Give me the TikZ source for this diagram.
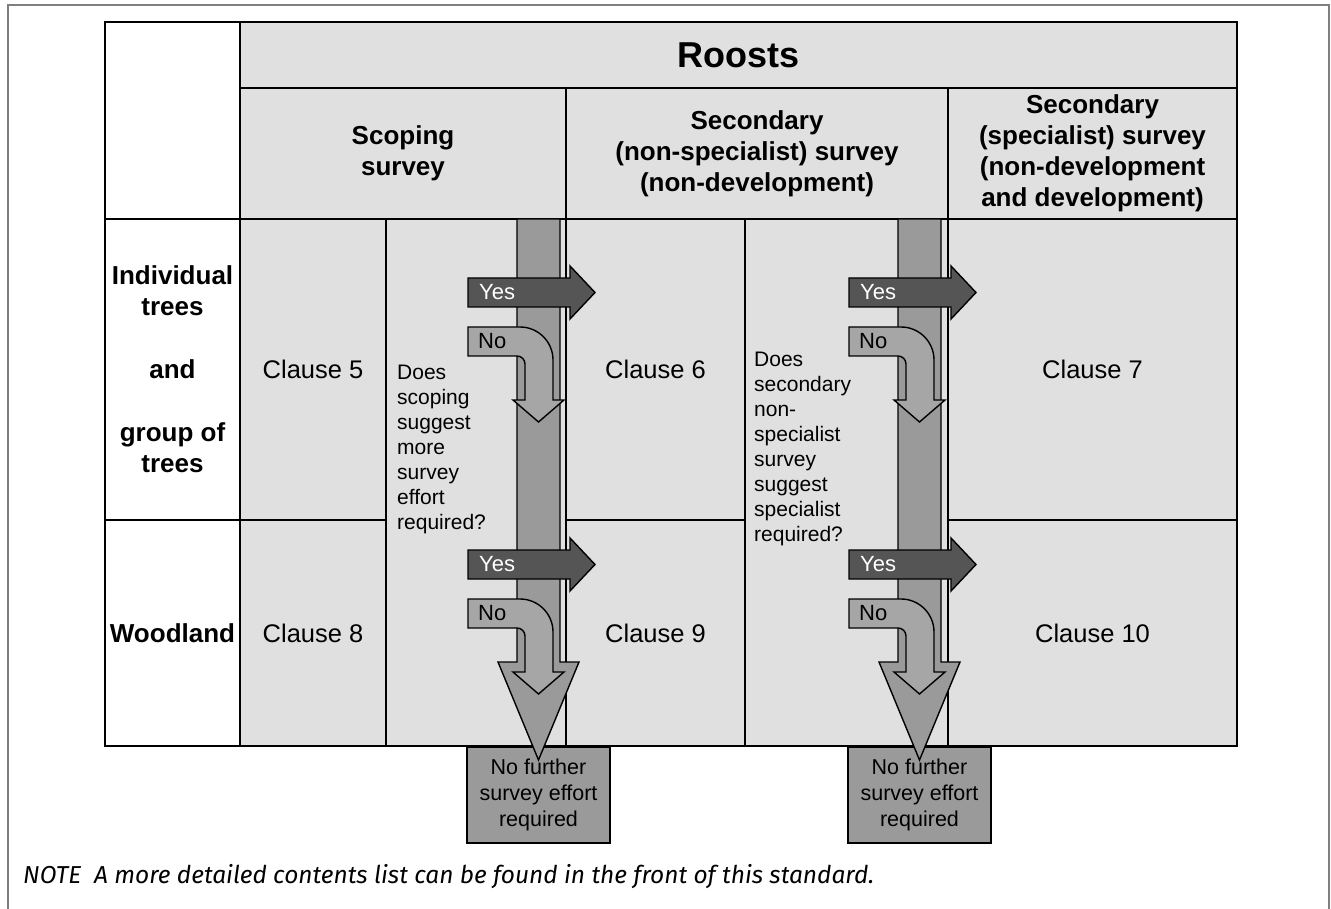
\documentclass[tikz,border=0pt]{standalone}
\usepackage{fontspec}
\setmainfont{Liberation Sans}
\newfontfamily\notefont{Fira Sans}
\definecolor{cellgray}{HTML}{E0E0E0}
\definecolor{bargray}{HTML}{9A9A9A}
\definecolor{yesgray}{HTML}{555555}
\definecolor{nogray}{HTML}{A6A6A6}
\definecolor{framegray}{HTML}{7F7F7F}
\begin{document}
\begin{tikzpicture}[x=1pt,y=-1pt,
 cell/.style={draw=black, line width=2.2pt, fill=cellgray, inner sep=0pt, align=center},
 wcell/.style={cell, fill=white},
 hfont/.style={font=\fontsize{26}{31}\selectfont\bfseries},
 cfont/.style={font=\fontsize{25.5}{30}\selectfont},
 qtext/.style={font=\fontsize{21}{25}\selectfont, align=left, inner sep=0pt, anchor=north west},
 bar/.style={fill=bargray, draw=black, line width=1.4pt, line join=miter},
 yesarrow/.style={fill=yesgray, draw=black, line width=1.4pt},
 noarrow/.style={fill=nogray, draw=black, line width=1.4pt},
 yeslabel/.style={text=white, font=\fontsize{22}{26}\selectfont, anchor=west, inner sep=0pt},
 nolabel/.style={text=black, font=\fontsize{22}{26}\selectfont, anchor=west, inner sep=0pt},
 endbox/.style={draw=black, line width=2pt, fill=bargray, minimum width=143pt, minimum height=96pt, inner sep=0pt, align=center, font=\fontsize{21.5}{26}\selectfont},
]
\useasboundingbox (0,0) rectangle (1331,909);
\fill[white] (0,0) rectangle (1331,909);
\draw[framegray, line width=1.5pt] (8,909) -- (8,5) -- (1329,5) -- (1329,909);

% header
\node[wcell, minimum width=135pt, minimum height=197pt] (tl) at (172.5,120.5) {};
\node[cell, minimum width=997pt, minimum height=66pt, font=\fontsize{36}{40}\selectfont\bfseries] (roosts) at (738.5,55) {Roosts};
\node[cell, hfont, minimum width=326pt, minimum height=131pt] (hscope) at (403,153.5) {Scoping\\survey};
\node[cell, hfont, minimum width=382pt, minimum height=131pt] (hsec) at (757,153.5) {Secondary\\(non-specialist) survey\\(non-development)};
\node[cell, hfont, minimum width=289pt, minimum height=131pt] (hspec) at (1092.5,153.5) {Secondary\\(specialist) survey\\(non-development\\and development)};

% body
\node[wcell, hfont, minimum width=135pt, minimum height=301pt] (lab1) at (172.5,369.5) {Individual\\trees\\[32pt]and\\[32pt]group of\\trees};
\node[wcell, hfont, minimum width=135pt, minimum height=226pt] (lab2) at (172.5,633) {Woodland};
\node[cell, cfont, minimum width=146pt, minimum height=301pt] (c5) at (313,369.5) {Clause 5};
\node[cell, cfont, minimum width=146pt, minimum height=226pt] (c8) at (313,633) {Clause 8};
\node[cell, minimum width=180pt, minimum height=527pt] (q1) at (476,482.5) {};
\node[cell, cfont, minimum width=179pt, minimum height=301pt] (c6) at (655.5,369.5) {Clause 6};
\node[cell, cfont, minimum width=179pt, minimum height=226pt] (c9) at (655.5,633) {Clause 9};
\node[cell, minimum width=203pt, minimum height=527pt] (q2) at (846.5,482.5) {};
\node[cell, cfont, minimum width=289pt, minimum height=301pt] (c7) at (1092.5,369.5) {Clause 7};
\node[cell, cfont, minimum width=289pt, minimum height=226pt] (c10) at (1092.5,633) {Clause 10};

\node[qtext] (qa) at (397,365) {Does\\scoping\\suggest\\more\\survey\\effort\\required?};
\node[qtext] (qb) at (754,352) {Does\\secondary\\non-\\specialist\\survey\\suggest\\specialist\\required?};

% end boxes
\node[endbox] (nf1) at (538.5,795) {No further\\survey effort\\required};
\node[endbox] (nf2) at (919.5,795) {No further\\survey effort\\required};

% arrows
\foreach \dx in {0,381} {
 \begin{scope}[shift={(\dx,0)}]
  \draw[bar] (517,219) -- (560,219) -- (560,662) -- (579,662) -- (538.5,760) -- (498,662) -- (517,662) -- cycle;
  \foreach \dy in {0,272} {
   \begin{scope}[shift={(0,\dy)}]
    \draw[yesarrow] (468,278) -- (570,278) -- (570,266) -- (595,292.5) -- (570,319) -- (570,307) -- (468,307) -- cycle;
    \draw[noarrow] (468,327) -- (520,327) .. controls (538.2,327) and (553,341.8) .. (553,360) -- (553,400) -- (564,400) -- (538.5,422) -- (513,400) -- (525,400) -- (525,364) .. controls (525,359.6) and (521.4,356) .. (517,356) -- (468,356) -- cycle;
    \node[yeslabel] (yes-\dx-\dy) at (479,292.5) {Yes};
    \node[nolabel] (no-\dx-\dy) at (478,341.5) {No};
   \end{scope}
  }
 \end{scope}
}

\node[anchor=base west, inner sep=0pt, font=\notefont\itshape\fontsize{24.5}{28}\selectfont] (note) at (23,883) {NOTE\hspace{13pt}A more detailed contents list can be found in the front of this standard.};
\end{tikzpicture}
\end{document}
